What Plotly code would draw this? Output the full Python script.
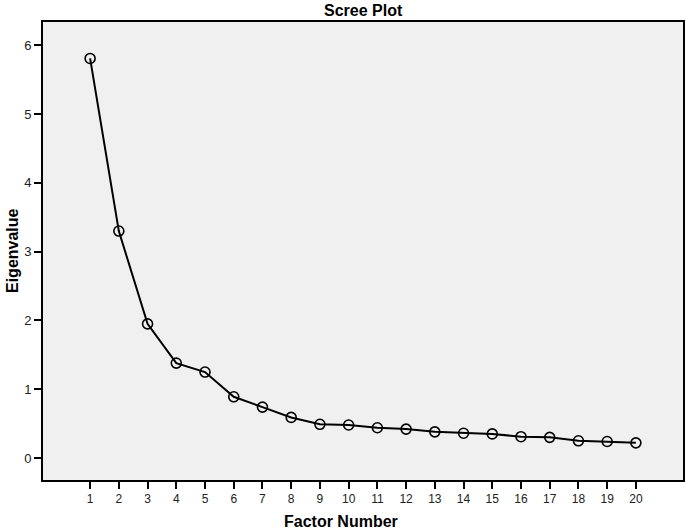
import plotly.graph_objects as go

# Scree plot data
factor_number = list(range(1, 21))
eigenvalues = [5.81, 3.30, 1.95, 1.38, 1.25, 0.89, 0.74, 0.59, 0.49, 0.48,
               0.44, 0.42, 0.38, 0.36, 0.35, 0.31, 0.30, 0.25, 0.24, 0.22]
y_ticks = [0, 1, 2, 3, 4, 5, 6]

FONT = "Liberation Sans, Arial, sans-serif"

fig = go.Figure()
fig.add_trace(go.Scatter(
    x=factor_number,
    y=eigenvalues,
    mode="lines+markers",
    line=dict(color="black", width=2),
    marker=dict(symbol="circle-open", size=10, color="black",
                line=dict(color="black", width=1.6)),
    showlegend=False,
))

fig.update_layout(
    width=685, height=531,
    paper_bgcolor="white",
    plot_bgcolor="#f0f0f0",
    margin=dict(l=43, r=2, t=22, b=51, autoexpand=False),
    font=dict(family=FONT, color="black", size=13),
)
# titles as annotations so they sit where the original puts them
fig.add_annotation(text="<b>Scree Plot</b>", xref="paper", yref="paper",
                   x=0.5, y=1, yshift=12, showarrow=False,
                   font=dict(size=16), yanchor="middle")
fig.add_annotation(text="<b>Factor Number</b>", xref="paper", yref="paper",
                   x=0.465, y=0, yshift=-41, showarrow=False,
                   font=dict(size=16), yanchor="middle")
fig.add_annotation(text="<b>Eigenvalue</b>", xref="paper", yref="paper",
                   x=0, xshift=-31, y=0.5, textangle=-90, showarrow=False,
                   font=dict(size=16), xanchor="center")

fig.update_xaxes(
    range=[-0.64, 21.64], automargin=False,
    tickmode="array", tickvals=factor_number,
    ticks="outside", ticklen=7, tickwidth=2, tickcolor="black",
    showgrid=False, zeroline=False,
    showline=True, linecolor="black", linewidth=2, mirror=True,
    tickfont=dict(size=12, color="#222222"),
)
fig.update_yaxes(
    range=[-0.32, 6.34], automargin=False,
    tickmode="array", tickvals=y_ticks,
    ticks="outside", ticklen=7, tickwidth=2, tickcolor="black",
    showgrid=False, zeroline=False,
    showline=True, linecolor="black", linewidth=2, mirror=True,
    tickfont=dict(size=13, color="#222222"),
)

# drop the default page margin so the figure fills the window exactly
fig.write_html("out.html", config={"displayModeBar": False},
               post_script="document.body.style.margin='0';")
